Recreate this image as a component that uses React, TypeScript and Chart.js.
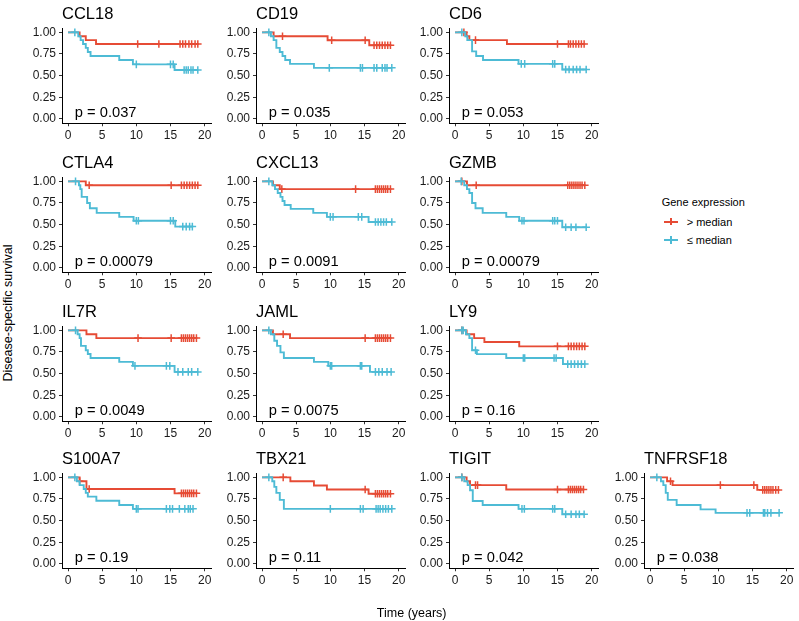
import React, { useEffect, useRef } from "react";
import { Chart, registerables } from "chart.js";

Chart.register(...registerables);

// ---------------- data ----------------
const genes = ["CCL18", "CD19", "CD6", "CTLA4", "CXCL13", "GZMB", "IL7R", "JAML", "LY9", "S100A7", "TBX21", "TIGIT", "TNFRSF18"];
const pValues = ["0.037", "0.035", "0.053", "0.00079", "0.0091", "0.00079", "0.0049", "0.0075", "0.16", "0.19", "0.11", "0.042", "0.038"];

const xTickValues = [0, 5, 10, 15, 20];
const yTickValues = [0, 0.25, 0.5, 0.75, 1];
const legendLabels = ["> median", "\u2264 median"];

// "> median" group: event times and survival after each event, censor times
const highDropTimes = [
  [1.7, 2.6, 4.1],
  [1.7, 9.6, 15.7],
  [1.7, 2.1, 7.6],
  [2.6],
  [1.6, 2.6],
  [1.75],
  [2.7, 4.15],
  [1.6, 4.1],
  [1.7, 2.8, 4.3, 9.4],
  [1.7, 2.7, 15.6],
  [4.15, 7.6, 9.5, 15.6],
  [1.7, 2.2, 7.5],
  [2.5, 3.3, 15.7],
];
const highDropSurv = [
  [0.955, 0.91, 0.865],
  [0.955, 0.908, 0.85],
  [0.955, 0.91, 0.865],
  [0.955],
  [0.955, 0.91],
  [0.955],
  [0.955, 0.91],
  [0.955, 0.91],
  [0.955, 0.91, 0.865, 0.815],
  [0.955, 0.865, 0.815],
  [0.955, 0.905, 0.86, 0.81],
  [0.955, 0.91, 0.86],
  [0.955, 0.91, 0.855],
];
const highCensor = [
  [10.2, 13.3, 16.4, 16.8, 17.2, 17.7, 18.1, 18.6, 19.0],
  [3.0, 10.2, 15.1, 16.4, 16.8, 17.2, 17.6, 18.0, 18.4, 18.8],
  [1.3, 3.0, 15.0, 16.6, 16.9, 17.3, 17.7, 18.1, 18.5, 18.9],
  [3.1, 15.1, 16.6, 17.0, 17.4, 17.8, 18.2, 18.6, 19.0],
  [2.9, 13.7, 16.6, 16.9, 17.2, 17.5, 17.8, 18.1, 18.4, 18.8],
  [1.0, 3.1, 16.5, 16.8, 17.1, 17.4, 17.7, 18.0, 18.3, 18.6, 19.0],
  [10.25, 15.1, 16.6, 16.9, 17.2, 17.5, 17.8, 18.1, 18.4, 18.8],
  [3.1, 15.1, 16.6, 16.9, 17.2, 17.5, 17.8, 18.1, 18.4, 18.8],
  [1.0, 15.0, 16.6, 17.0, 17.4, 17.8, 18.2, 18.6, 19.0],
  [1.7, 3.1, 16.6, 16.9, 17.2, 17.5, 17.8, 18.1, 18.4, 18.8],
  [3.1, 15.1, 16.6, 16.9, 17.2, 17.5, 17.8, 18.1, 18.4, 18.8],
  [1.0, 3.0, 3.3, 15.0, 16.6, 16.9, 17.2, 17.5, 17.8, 18.1, 18.4, 18.8],
  [3.0, 10.3, 15.2, 16.5, 16.8, 17.1, 17.4, 17.7, 18.0, 18.4, 18.8],
];

// "<= median" group
const lowDropTimes = [
  [1.5, 1.85, 2.2, 2.6, 2.9, 3.3, 7.5, 9.5, 15.6],
  [1.3, 1.7, 2.1, 2.6, 3.0, 3.4, 4.1, 7.6],
  [1.5, 1.8, 2.5, 3.1, 4.1, 9.3, 15.7],
  [1.6, 1.8, 2.0, 2.8, 3.2, 4.2, 7.5, 9.6, 15.7],
  [1.5, 1.9, 2.3, 2.7, 3.0, 3.3, 4.2, 7.5, 9.5, 15.6],
  [1.35, 1.75, 2.1, 2.5, 3.0, 4.05, 7.5, 9.4, 15.7],
  [1.4, 1.7, 1.9, 2.6, 2.9, 3.3, 7.5, 9.5, 15.6],
  [1.3, 1.8, 2.2, 2.7, 3.2, 7.6, 9.7, 15.8],
  [1.6, 2.1, 2.5, 3.2, 7.5, 15.8],
  [1.3, 1.7, 2.3, 2.6, 2.9, 4.15, 7.5, 9.5],
  [1.5, 1.8, 2.1, 2.6, 3.2],
  [1.35, 1.85, 2.2, 2.6, 4.05, 9.3, 15.7],
  [1.6, 1.95, 2.3, 2.6, 3.9, 7.4, 9.6],
];
const lowDropSurv = [
  [0.955, 0.91, 0.865, 0.82, 0.773, 0.727, 0.68, 0.63, 0.565],
  [0.955, 0.91, 0.82, 0.773, 0.727, 0.68, 0.636, 0.59],
  [0.955, 0.91, 0.78, 0.727, 0.68, 0.636, 0.57],
  [0.955, 0.91, 0.82, 0.75, 0.69, 0.636, 0.59, 0.545, 0.477],
  [0.955, 0.91, 0.865, 0.82, 0.773, 0.727, 0.682, 0.636, 0.59, 0.53],
  [0.955, 0.91, 0.865, 0.75, 0.69, 0.636, 0.59, 0.545, 0.47],
  [0.955, 0.91, 0.82, 0.77, 0.727, 0.68, 0.636, 0.59, 0.52],
  [0.955, 0.88, 0.82, 0.745, 0.68, 0.636, 0.59, 0.52],
  [0.955, 0.91, 0.77, 0.725, 0.68, 0.61],
  [0.955, 0.91, 0.865, 0.82, 0.777, 0.73, 0.68, 0.636],
  [0.955, 0.89, 0.82, 0.74, 0.636],
  [0.955, 0.91, 0.85, 0.727, 0.68, 0.636, 0.573],
  [0.955, 0.91, 0.82, 0.74, 0.68, 0.63, 0.59],
];
const lowCensor = [
  [1.0, 10.0, 15.0, 15.4, 17.0, 17.3, 17.6, 18.0, 18.3, 19.0],
  [1.0, 9.85, 14.4, 14.7, 16.4, 16.8, 17.6, 18.0, 18.3, 19.0],
  [1.0, 9.7, 10.2, 14.3, 14.6, 16.2, 16.7, 17.3, 17.8, 18.3, 19.2],
  [1.1, 10.0, 10.3, 15.0, 15.4, 16.8, 17.3, 17.8, 18.2],
  [1.0, 10.0, 10.4, 14.1, 14.6, 16.6, 17.0, 17.4, 17.8, 18.2, 19.0],
  [0.9, 9.8, 10.1, 14.3, 14.6, 15.0, 16.2, 17.0, 17.7, 19.2],
  [1.1, 9.8, 14.4, 14.9, 16.1, 16.8, 17.6, 18.1, 19.0],
  [1.0, 10.0, 10.2, 14.4, 14.6, 16.6, 17.1, 17.6, 18.3, 18.9],
  [1.0, 1.2, 3.0, 10.0, 10.2, 14.5, 14.8, 16.5, 17.0, 17.5, 18.0, 18.5, 19.0],
  [1.0, 10.0, 10.25, 14.4, 14.9, 15.3, 16.3, 17.1, 17.6, 17.9, 18.3],
  [1.0, 10.0, 14.4, 14.8, 16.7, 17.0, 17.3, 17.7, 18.1, 18.5, 19.0],
  [1.0, 9.8, 10.15, 14.3, 14.6, 16.2, 17.0, 17.7, 18.2, 18.9],
  [1.0, 14.2, 14.6, 16.6, 16.8, 17.2, 17.7, 18.9],
];

// ---------------- layout / style ----------------
const RED = "#E64B35";
const BLUE = "#4DBBD5";
const FONT = "'Liberation Sans', Arial, Helvetica, sans-serif";

const colAxisX = [62.3, 256, 449.3, 644.3];
const rowZeroY = [119.3, 268.3, 416.7, 564];
const PX_PER_Y = 86.6;
const AREA_W = 149.4;
const Y_MIN = -0.05;
const Y_MAX = 1.05;
const X_MIN = -0.88;
const X_MAX = 20.99;
const LEFT_W = 44;
const TOP_H = 26;
const CANVAS_W = 203;
const CANVAS_H = 148;

function survAt(times: number[], surv: number[], t: number) {
  let s = 1;
  for (let i = 0; i < times.length; i++) if (times[i] <= t) s = surv[i];
  return s;
}

function curvePoints(times: number[], surv: number[], cens: number[]) {
  const pts = [{ x: 0, y: 1 }];
  times.forEach((t, i) => pts.push({ x: t, y: surv[i] }));
  const end = Math.max(...cens, ...times);
  pts.push({ x: end, y: survAt(times, surv, end) });
  return pts;
}

function censorPoints(times: number[], surv: number[], cens: number[]) {
  return cens.map((c) => ({ x: c, y: survAt(times, surv, c) }));
}

const panelTextPlugin = {
  id: "panelText",
  afterDraw(chart: any, _args: any, opts: any) {
    const { ctx, chartArea, scales } = chart;
    ctx.save();
    ctx.fillStyle = "#000";
    ctx.textAlign = "left";
    ctx.textBaseline = "alphabetic";
    ctx.font = `16.5px ${FONT}`;
    ctx.fillText(opts.title, chartArea.left, chartArea.top - 9.4);
    ctx.font = `14.7px ${FONT}`;
    ctx.fillText("p = " + opts.p, scales.x.getPixelForValue(1.0), scales.y.getPixelForValue(0.025));
    ctx.restore();
  },
};

function Panel({ idx }: { idx: number }) {
  const ref = useRef<HTMLCanvasElement | null>(null);
  const row = idx < 9 ? Math.floor(idx / 3) : 3;
  const col = idx < 9 ? idx % 3 : idx - 9;
  const areaLeft = colAxisX[col];
  const areaTop = rowZeroY[row] - Y_MAX * PX_PER_Y;
  const areaH = (Y_MAX - Y_MIN) * PX_PER_Y;
  const rightPad = CANVAS_W - LEFT_W - AREA_W;
  const bottomH = CANVAS_H - TOP_H - areaH;

  useEffect(() => {
    if (!ref.current) return;
    const lineDs = (data: any, color: string) => ({
      data,
      showLine: true,
      stepped: "before",
      borderColor: color,
      backgroundColor: color,
      borderWidth: 1.9,
      pointRadius: 0,
      pointHoverRadius: 0,
    });
    const censDs = (data: any, color: string) => ({
      data,
      showLine: false,
      pointStyle: "cross",
      pointRadius: 3.8,
      pointHoverRadius: 3.8,
      pointBorderColor: color,
      pointBackgroundColor: color,
      pointBorderWidth: 1.5,
      borderColor: color,
      backgroundColor: color,
    });
    const tickFont = { family: FONT, size: 12 };
    const chart = new Chart(ref.current, {
      type: "scatter",
      data: {
        datasets: [
          lineDs(curvePoints(lowDropTimes[idx], lowDropSurv[idx], lowCensor[idx]), BLUE),
          censDs(censorPoints(lowDropTimes[idx], lowDropSurv[idx], lowCensor[idx]), BLUE),
          lineDs(curvePoints(highDropTimes[idx], highDropSurv[idx], highCensor[idx]), RED),
          censDs(censorPoints(highDropTimes[idx], highDropSurv[idx], highCensor[idx]), RED),
        ] as any,
      },
      options: {
        animation: false,
        responsive: false,
        events: [],
        layout: { padding: { left: 0, top: TOP_H, right: rightPad, bottom: 0 } },
        plugins: {
          legend: { display: false },
          tooltip: { enabled: false },
          panelText: { title: genes[idx], p: pValues[idx] },
        } as any,
        scales: {
          x: {
            type: "linear",
            min: X_MIN,
            max: X_MAX,
            afterBuildTicks: (s: any) => {
              s.ticks = xTickValues.map((v) => ({ value: v }));
            },
            afterFit: (s: any) => {
              s.height = bottomH;
            },
            grid: { drawOnChartArea: false, drawTicks: true, tickLength: 3, color: "#333", lineWidth: 1 },
            border: { display: true, color: "#000", width: 1 },
            ticks: { font: tickFont, color: "#1a1a1a", padding: 2, maxRotation: 0, autoSkip: false, callback: (v: any) => String(v) },
          },
          y: {
            type: "linear",
            min: Y_MIN,
            max: Y_MAX,
            afterBuildTicks: (s: any) => {
              s.ticks = yTickValues.map((v) => ({ value: v }));
            },
            afterFit: (s: any) => {
              s.width = LEFT_W;
            },
            grid: { drawOnChartArea: false, drawTicks: true, tickLength: 3, color: "#333", lineWidth: 1 },
            border: { display: true, color: "#000", width: 1 },
            ticks: { font: tickFont, color: "#1a1a1a", padding: 3, autoSkip: false, callback: (v: any) => Number(v).toFixed(2) },
          },
        },
      } as any,
      plugins: [panelTextPlugin as any],
    });
    return () => chart.destroy();
  }, [idx]);

  return (
    <canvas
      ref={ref}
      width={CANVAS_W}
      height={CANVAS_H}
      style={{
        position: "absolute",
        left: areaLeft - LEFT_W,
        top: areaTop - TOP_H,
        width: CANVAS_W,
        height: CANVAS_H,
      }}
    />
  );
}

function LegendItem({ color, label, y }: { color: string; label: string; y: number }) {
  return (
    <>
      <div style={{ position: "absolute", left: 664, top: y - 0.9, width: 14, height: 1.8, background: color }} />
      <div style={{ position: "absolute", left: 670.2, top: y - 3.8, width: 1.5, height: 7.6, background: color }} />
      <div
        style={{
          position: "absolute",
          left: 686.7,
          top: y - 7,
          lineHeight: "14px",
          fontSize: 11,
          fontFamily: FONT,
          color: "#000",
          whiteSpace: "nowrap",
        }}
      >
        {label}
      </div>
    </>
  );
}

export default function App() {
  return (
    <div
      style={{
        position: "absolute",
        left: 0,
        top: 0,
        width: 799,
        height: 621,
        background: "#fff",
        overflow: "hidden",
        fontFamily: FONT,
      }}
    >
      {genes.map((_, i) => (
        <Panel key={i} idx={i} />
      ))}
      <div
        style={{
          position: "absolute",
          left: 661.7,
          top: 194.7,
          lineHeight: "14px",
          fontSize: 11,
          color: "#000",
          whiteSpace: "nowrap",
        }}
      >
        Gene expression
      </div>
      <LegendItem color={RED} label={legendLabels[0]} y={221.7} />
      <LegendItem color={BLUE} label={legendLabels[1]} y={240} />
      <div
        style={{
          position: "absolute",
          left: 411.7,
          top: 605.5,
          transform: "translateX(-50%)",
          lineHeight: "15px",
          fontSize: 12.5,
          color: "#000",
          whiteSpace: "nowrap",
        }}
      >
        Time (years)
      </div>
      <div
        style={{
          position: "absolute",
          left: 7.5,
          top: 313,
          transform: "translate(-50%, -50%) rotate(-90deg)",
          lineHeight: "15px",
          fontSize: 12.5,
          color: "#000",
          whiteSpace: "nowrap",
        }}
      >
        Disease-specific survival
      </div>
    </div>
  );
}
